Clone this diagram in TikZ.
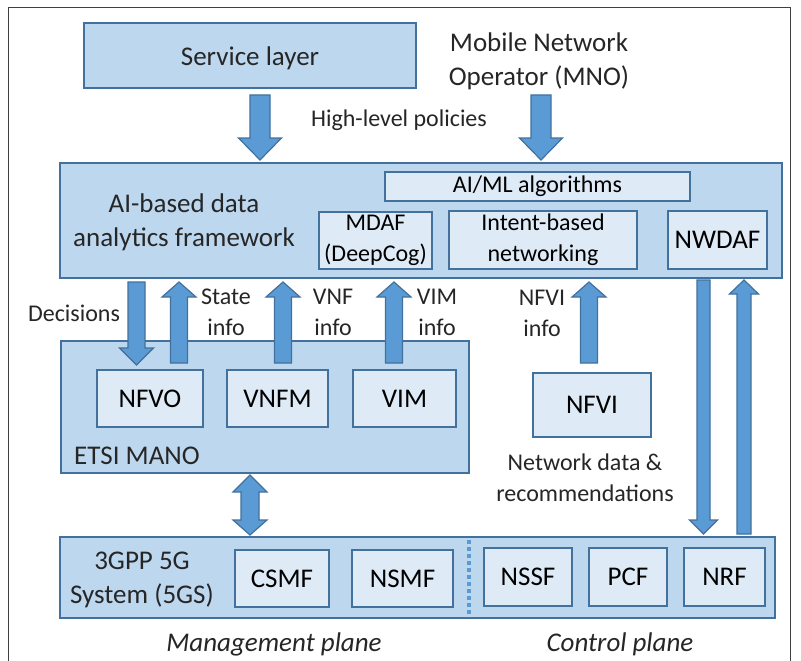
\documentclass[tikz,border=0pt]{standalone}
\usepackage{fontspec}
\setmainfont{Carlito}
\definecolor{boxfill}{RGB}{189,215,238}
\definecolor{inner}{RGB}{222,235,247}
\definecolor{edge}{RGB}{65,113,156}
\definecolor{arrowfill}{RGB}{91,155,213}
\definecolor{frame}{RGB}{64,64,64}
\newcommand{\bigtxt}{\fontsize{27}{34}\selectfont}
\newcommand{\smalltxt}{\fontsize{24}{31}\selectfont}
% vertical block arrow: x, y tail, y head base, y tip, half body, half head
\newcommand{\varrow}[6]{%
  \draw[blockarrow] ({#1-#5},#2) -- ({#1-#5},#3) -- ({#1-#6},#3) -- (#1,#4)
    -- ({#1+#6},#3) -- ({#1+#5},#3) -- ({#1+#5},#2) -- cycle;}
% vertical double block arrow: x, tip1, base1, base2, tip2, half body, half head
\newcommand{\dblarrow}[7]{%
  \draw[blockarrow] (#1,#2) -- ({#1+#7},#3) -- ({#1+#6},#3) -- ({#1+#6},#4)
    -- ({#1+#7},#4) -- (#1,#5) -- ({#1-#7},#4) -- ({#1-#6},#4) -- ({#1-#6},#3)
    -- ({#1-#7},#3) -- cycle;}
\tikzset{
  outerbox/.style={draw=edge, fill=boxfill, line width=1.4pt, inner sep=0pt},
  inbox/.style={draw=edge, fill=inner, line width=1.4pt, align=center,
    inner sep=0pt, font=\bigtxt},
  lbl/.style={align=center, inner sep=0pt, font=\smalltxt, text=black!85},
  big/.style={align=center, inner sep=0pt, font=\bigtxt, text=black!85},
  blockarrow/.style={draw=edge, fill=arrowfill, line width=1.2pt, line join=miter},
  planesep/.style={draw=arrowfill, line width=3.5pt, dash pattern=on 4pt off 3pt},
}
\begin{document}
\begin{tikzpicture}[x=1pt, y=-1pt]
\useasboundingbox (0,0) rectangle (801,661);
\clip (0,0) rectangle (801,661);
\fill[white] (0,0) rectangle (801,661);
\draw[frame, line width=1pt] (8,670) -- (8,8) -- (790,8) -- (790,670);

% boxes
\node[outerbox, minimum width=332pt, minimum height=65pt] (svc) at (250,55.5) {};
\node[big] (svctxt) at (250,58) {Service layer};
\node[big] (mno) at (539,61) {Mobile Network\\Operator (MNO)};
\node[lbl] (hlp) at (399,120) {High-level policies};

\node[outerbox, minimum width=722pt, minimum height=115pt] (ai) at (421,220.5) {};
\node[big] (aitxt) at (184,222) {AI-based data\\analytics framework};
\node[inbox, font=\smalltxt, minimum width=305pt, minimum height=29pt] (aiml) at (537.5,186.5) {AI/ML algorithms};
\node[inbox, font=\smalltxt, minimum width=113pt, minimum height=57pt] (mdaf) at (375.5,240.5) {MDAF\\(DeepCog)};
\node[inbox, font=\smalltxt, minimum width=188pt, minimum height=58pt] (ibn) at (543,240) {Intent-based\\networking};
\node[inbox, minimum width=99pt, minimum height=58pt] (nwdaf) at (717.5,240) {NWDAF};

\node[outerbox, minimum width=408pt, minimum height=132pt] (mano) at (265,407) {};
\node[inbox, minimum width=106pt, minimum height=57pt] (nfvo) at (150,398.5) {NFVO};
\node[inbox, minimum width=101pt, minimum height=57pt] (vnfm) at (277.5,398.5) {VNFM};
\node[inbox, minimum width=103pt, minimum height=57pt] (vimb) at (404.5,398.5) {VIM};
\node[big, anchor=west] (etsi) at (74,456) {ETSI MANO};
\node[inbox, minimum width=118pt, minimum height=64pt] (nfvi) at (592,405) {NFVI};
\node[lbl] (netdata) at (585,478) {Network data \&\\recommendations};

\node[outerbox, minimum width=715pt, minimum height=81pt] (gs) at (417.5,577.5) {};
\coordinate (septop) at (469,540);
\coordinate (sepbot) at (469,617);
\draw[planesep] (septop) -- (sepbot);
\node[big] (gstxt) at (142,579.5) {3GPP 5G\\System (5GS)};
\node[inbox, minimum width=94pt, minimum height=57pt] (csmf) at (282,578.5) {CSMF};
\node[inbox, minimum width=101pt, minimum height=57pt] (nsmf) at (402.5,578.5) {NSMF};
\node[inbox, minimum width=88pt, minimum height=58pt] (nssf) at (528,577) {NSSF};
\node[inbox, minimum width=78pt, minimum height=58pt] (pcf) at (628,577) {PCF};
\node[inbox, minimum width=81pt, minimum height=58pt] (nrf) at (724.5,577) {NRF};
\node[big, font=\bigtxt\itshape] (mgmt) at (274,644) {Management plane};
\node[big, font=\bigtxt\itshape] (ctrl) at (620,644) {Control plane};

% block arrows
\varrow{260}{95}{138}{160}{10}{21.5}
\varrow{541}{95}{138}{160}{10}{21.5}
\varrow{136.5}{282}{348}{365}{8.5}{17}
\varrow{179}{363}{297}{282}{8.5}{17}
\varrow{283}{363}{297}{282}{8.5}{17}
\varrow{394}{363}{297}{282}{8.5}{17}
\varrow{589}{363}{297}{282}{8.5}{17}
\varrow{703.5}{280}{520}{534}{6.5}{14}
\varrow{744}{534}{294}{280}{7}{14.5}
\dblarrow{250}{475}{492}{520}{535}{9}{17}

% labels of the arrows
\node[lbl] (dec) at (74,313) {Decisions};
\node[lbl] (state) at (226,312) {State\\info};
\node[lbl] (vnf) at (333,312) {VNF\\info};
\node[lbl] (vim) at (437,312) {VIM\\info};
\node[lbl] (nfviinfo) at (542,313) {NFVI\\info};
\end{tikzpicture}
\end{document}
